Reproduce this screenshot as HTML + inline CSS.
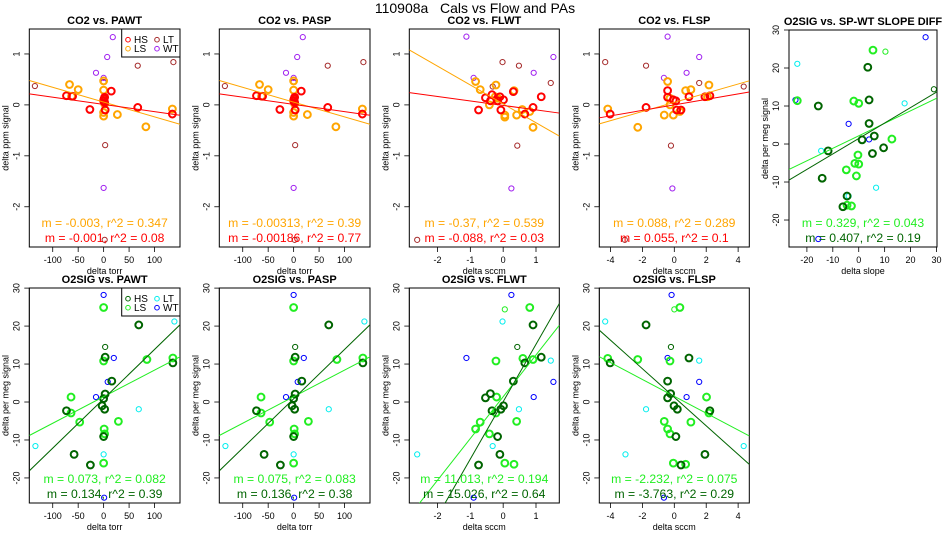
<!DOCTYPE html>
<html><head><meta charset="utf-8"><style>
html,body{margin:0;padding:0;background:#fff;}
svg{display:block;font-family:"Liberation Sans",Arial,sans-serif;}
</style></head><body>
<svg id="fig" width="950" height="550" viewBox="0 0 950 550" xmlns="http://www.w3.org/2000/svg">
<text x="475" y="13" text-anchor="middle" font-size="14" style="white-space:pre" xml:space="preserve">110908a   Cals vs Flow and PAs</text>
</svg>
<script>
// ---- Data arrays (x, y pairs) ----
// Panel 1: CO2 vs PAWT
const p1HS=[[-73,0.18],[-61,0.17],[-27,-0.09],[0,0.08],[1,0.12],[2,0.05],[3,-0.1],[15,0.27],[67,-0.05],[135,-0.18],[2,0.15]];
const p1LS=[[-67,0.4],[-63,0.17],[-50,0.3],[0,0.47],[0,0.29],[0,-0.15],[0,-0.22],[2,0.02],[27,-0.19],[83,-0.43],[135,-0.08],[0,0.1]];
const p1LT=[[-135,0.37],[0,0.45],[67,0.77],[137,0.84],[3,-0.79],[2,-2.65]];
const p1WT=[[18,1.33],[7,0.94],[-15,0.63],[0,0.53],[0,-1.63]];
// Panel 2: CO2 vs PASP
const p2HS=[[-73,0.18],[-61,0.17],[-27,-0.09],[0,0.08],[1,0.12],[2,0.05],[3,-0.1],[15,0.27],[67,-0.05],[135,-0.18],[2,0.15]];
const p2LS=[[-67,0.4],[-63,0.17],[-50,0.3],[0,0.47],[0,0.29],[0,-0.15],[0,-0.22],[2,0.02],[27,-0.19],[83,-0.43],[135,-0.08],[0,0.1]];
const p2LT=[[-135,0.37],[0,0.45],[67,0.77],[137,0.84],[3,-0.79],[2,-2.65]];
const p2WT=[[18,1.33],[7,0.94],[-15,0.63],[0,0.53],[0,-1.63]];
// Panel 3: CO2 vs FLWT
const p3HS=[[-0.75,-0.1],[-0.54,0.14],[-0.39,0.08],[-0.34,0.2],[-0.17,0.08],[-0.1,0.16],[-0.07,-0.1],[0.01,0.1],[0.31,0.26],[0.66,-0.18],[0.91,-0.05],[1.16,0.16]];
const p3LS=[[-0.84,0.46],[-0.7,0.3],[-0.42,0.0],[-0.22,0.39],[-0.24,0.16],[-0.17,0.13],[0.05,-0.2],[0.05,-0.24],[0.33,0.28],[0.41,-0.2],[0.58,-0.09],[0.81,-0.13],[0.91,-0.44]];
const p3LT=[[-2.62,-2.65],[-0.32,0.36],[-0.02,0.84],[0.48,0.77],[0.43,-0.8],[1.45,0.43]];
const p3WT=[[-1.12,1.34],[-0.9,0.53],[0.93,0.63],[1.53,0.94],[0.25,-1.64]];
// Panel 4: CO2 vs FLSP
const p4HS=[[-4.02,-0.18],[-1.77,-0.05],[-0.42,0.28],[-0.42,0.15],[-0.06,0.1],[0.1,0.08],[0.15,-0.1],[0.42,-0.1],[0.92,0.16],[1.92,0.16],[2.23,0.18]];
const p4LS=[[-4.17,-0.08],[-2.29,-0.44],[-0.63,-0.2],[-0.42,0.46],[-0.27,0.13],[-0.27,0],[-0.06,-0.2],[0.35,-0.13],[0.71,0.28],[1.04,0.3],[2.08,0.16],[2.17,0.39]];
const p4LT=[[-4.33,0.84],[-1.77,0.77],[1.56,0.43],[4.35,0.36],[-0.21,-0.8],[-3.1,-2.65]];
const p4WT=[[-0.42,1.34],[-0.65,0.53],[0.77,0.63],[1.56,0.94],[-0.12,-1.64]];
// Panel 5: O2SIG vs SP-WT slope diff
const p5HS=[[3.5,20.2],[4,11.6],[4,5.4],[6,2.1],[1.3,1.1],[9.6,-1],[5.3,-2.5],[-11.8,-1.8],[-15.6,10],[-14.1,-9],[-4.5,-13.7],[-6.1,-16.5]];
const p5LS=[[5.5,24.7],[-23.7,11.4],[-1.9,11.3],[0,10.7],[12.8,1.3],[-0.3,-2.9],[-1.5,-5.1],[0,-5.3],[-4.8,-6.8],[-0.9,-8.4],[-4.5,-16.1],[-2.8,-16.3]];
const p5LT=[[-23.7,21.1],[17.7,10.7],[-14.5,-1.8],[6.7,-11.5],[-3.9,-13.7]];
const p5WT=[[25.8,28.1],[-24.4,11.6],[-3.9,5.3],[4,1.2],[-15.6,-25]];
const p5HSthin=[[29,14.4]];
const p5LSthin=[[10.3,24.3]];
// Panel 6: O2SIG vs PAWT
const p6HS=[[-73,-2.3],[-58,-13.8],[-26,-16.6],[-3,-1],[0,0.9],[2,-1.9],[0,-9.1],[3,2.1],[3,11.8],[16,5.5],[69,20.3],[136,10.3]];
const p6LS=[[-64,1.3],[-64,-2.9],[-47,-5.3],[0,24.9],[0,10.8],[1,-7.1],[2,-8.4],[0,-16.1],[29,-5.1],[85,11.2],[136,11.6]];
const p6LT=[[-134,-11.6],[0,-13.8],[69,-1.9],[139,21.2]];
const p6WT=[[0,28.2],[20,11.6],[8,5.3],[-15,1.3],[1,-25.2]];
const p6HSthin=[[3,14.5]];
// Panel 7: O2SIG vs PASP
const p7HS=[[-73,-2.3],[-58,-13.8],[-26,-16.6],[-3,-1],[0,0.9],[2,-1.9],[0,-9.1],[3,2.1],[3,11.8],[16,5.5],[69,20.3],[136,10.3]];
const p7LS=[[-64,1.3],[-64,-2.9],[-47,-5.3],[0,24.9],[0,10.8],[1,-7.1],[2,-8.4],[0,-16.1],[29,-5.1],[85,11.2],[136,11.6]];
const p7LT=[[-134,-11.6],[0,-13.8],[69,-1.9],[139,21.2]];
const p7WT=[[0,28.2],[20,11.6],[8,5.3],[-15,1.3],[1,-25.2]];
const p7HSthin=[[3,14.5]];
// Panel 8: O2SIG vs FLWT
const p8HS=[[-0.75,-16.6],[-0.54,1.1],[-0.39,2.2],[-0.34,-2.3],[-0.17,-9.1],[-0.1,-13.8],[-0.07,-1.9],[0.01,-1],[0.31,5.5],[0.66,10.3],[0.91,20.3],[1.16,11.8]];
const p8LS=[[-0.84,-7.1],[-0.7,-5.3],[-0.42,-8.4],[-0.22,10.8],[-0.2,1.3],[-0.22,-2.9],[0.05,-16.1],[0.33,-16.4],[0.41,-5.1],[0.6,11.5],[0.81,24.9],[0.91,11.2]];
const p8LT=[[-2.62,-13.8],[-0.32,-11.6],[-0.02,21.2],[0.48,-1.9],[1.45,10.9]];
const p8WT=[[-1.12,11.6],[-0.9,-25.2],[0.25,28.2],[0.93,1.3],[1.53,5.3]];
const p8HSthin=[[0.43,14.5]];
const p8LSthin=[[0.05,24.4]];
// Panel 9: O2SIG vs FLSP
const p9HS=[[-4.02,10.3],[-1.77,20.3],[-0.42,5.5],[-0.42,1.1],[-0.23,2.2],[-0.02,-1],[0.19,-1.9],[0.1,-9.1],[0.42,-16.6],[0.92,11.6],[1.92,-13.8],[2.23,-2.3]];
const p9LS=[[-4.17,11.5],[-2.29,11.2],[-0.63,-5.1],[-0.42,-7.1],[-0.27,10.8],[-0.27,-8.4],[-0.06,-16.1],[0.35,24.9],[0.71,-16.4],[1.04,-5.3],[2.02,1.3],[2.17,-2.9]];
const p9LT=[[-4.33,21.2],[-1.77,-1.9],[1.56,10.9],[4.35,-11.6],[-3.06,-13.8]];
const p9WT=[[-0.42,11.6],[-0.17,28.2],[0.77,1.3],[1.56,5.3],[-0.65,-25.2]];
const p9HSthin=[[-0.21,14.5]];
const p9LSthin=[[0,24.4]];
// Fit lines [slope, intercept] for LS and HS
const fitLS=[[-0.0029,0.055],[-0.0029,0.055],[-0.37,0.02],[0.09,0.05],[0.329,2.15],[0.07,1.4],[0.07,1.4],[11.0,1.4],[-2.22,1.5]];
const fitHS=[[-0.00142,0.01],[-0.00142,0.01],[-0.088,-0.01],[0.054,0.0],[0.407,1.45],[0.13,0.85],[0.13,0.85],[15.1,0.1],[-3.76,1.25]];
const annLS=["m = -0.003, r^2 = 0.347","m = -0.00313, r^2 = 0.39","m = -0.37, r^2 = 0.539","m = 0.088, r^2 = 0.289","m = 0.329, r^2 = 0.043","m = 0.073, r^2 = 0.082","m = 0.075, r^2 = 0.083","m = 11.013, r^2 = 0.194","m = -2.232, r^2 = 0.075"];
const annHS=["m = -0.001, r^2 = 0.08","m = -0.00186, r^2 = 0.77","m = -0.088, r^2 = 0.03","m = 0.055, r^2 = 0.1","m = 0.407, r^2 = 0.19","m = 0.134, r^2 = 0.39","m = 0.136, r^2 = 0.38","m = 15.026, r^2 = 0.64","m = -3.763, r^2 = 0.29"];
const titles=["CO2 vs. PAWT","CO2 vs. PASP","CO2 vs. FLWT","CO2 vs. FLSP","O2SIG vs. SP-WT SLOPE DIFF","O2SIG vs. PAWT","O2SIG vs. PASP","O2SIG vs. FLWT","O2SIG vs. FLSP"];
const xTitles=["delta torr","delta torr","delta sccm","delta sccm","delta slope","delta torr","delta torr","delta sccm","delta sccm"];
const ticksPA=[-100,-50,0,50,100];
const ticksFLWT=[-2,-1,0,1];
const ticksFLSP=[-4,-2,0,2,4];
const ticksSlope=[-20,-10,0,10,20,30];
const ticksCO2=[-2,-1,0,1];
const ticksO2=[-20,-10,0,10,20,30];

const NS="http://www.w3.org/2000/svg";
const svg=document.getElementById('fig');
function mk(tag,attrs,parent){const e=document.createElementNS(NS,tag);for(const k in attrs)e.setAttribute(k,attrs[k]);(parent||svg).appendChild(e);return e;}

const panels=[
 {l:29.3,t:29,w:150.7,h:218,xd:[-146,150],yd:[-2.79,1.49],xt:ticksPA,yt:ticksCO2,d:[p1HS,p1LS,p1LT,p1WT],co2:true,leg:true},
 {l:219.3,t:29,w:150.7,h:218,xd:[-146,150],yd:[-2.79,1.49],xt:ticksPA,yt:ticksCO2,d:[p2HS,p2LS,p2LT,p2WT],co2:true},
 {l:409.3,t:29,w:150,h:218,xd:[-2.86,1.71],yd:[-2.79,1.49],xt:ticksFLWT,yt:ticksCO2,d:[p3HS,p3LS,p3LT,p3WT],co2:true},
 {l:599.3,t:29,w:150,h:218,xd:[-4.7,4.7],yd:[-2.79,1.49],xt:ticksFLSP,yt:ticksCO2,d:[p4HS,p4LS,p4LT,p4WT],co2:true},
 {l:789,t:30,w:148,h:217,xd:[-26.9,30.2],yd:[-27.1,30],xt:ticksSlope,yt:ticksO2,d:[p5HS,p5LS,p5LT,p5WT],hsT:p5HSthin,lsT:p5LSthin},
 {l:29.3,t:288,w:150.7,h:215,xd:[-146,150],yd:[-26.6,30.03],xt:ticksPA,yt:ticksO2,d:[p6HS,p6LS,p6LT,p6WT],hsT:p6HSthin,leg:true},
 {l:219.3,t:288,w:150.7,h:215,xd:[-146,150],yd:[-26.6,30.03],xt:ticksPA,yt:ticksO2,d:[p7HS,p7LS,p7LT,p7WT],hsT:p7HSthin},
 {l:409.3,t:288,w:150,h:215,xd:[-2.86,1.71],yd:[-26.6,30.03],xt:ticksFLWT,yt:ticksO2,d:[p8HS,p8LS,p8LT,p8WT],hsT:p8HSthin,lsT:p8LSthin},
 {l:599.3,t:288,w:150,h:215,xd:[-4.7,4.7],yd:[-26.6,30.03],xt:ticksFLSP,yt:ticksO2,d:[p9HS,p9LS,p9LT,p9WT],hsT:p9HSthin,lsT:p9LSthin}
];
const CO2C=["#ff0000","#ffa500","#a52a2a","#a020f0"];
const O2C=["#006400","#22ee22","#00eeee","#0000ff"];
const names=["HS","LS","LT","WT"];

panels.forEach((p,i)=>{
 const g=mk('g',{});
 
 
 const sx=v=>p.l+(v-p.xd[0])/(p.xd[1]-p.xd[0])*p.w;
 const sy=v=>p.t+p.h-(v-p.yd[0])/(p.yd[1]-p.yd[0])*p.h;
 const cols=p.co2?CO2C:O2C;
 const cp=mk('clipPath',{id:'c'+i},g);
 mk('rect',{x:p.l,y:p.t,width:p.w,height:p.h},cp);
 const tt=mk('text',{x:p.l+p.w/2,y:p.t-5,'text-anchor':'middle','font-size':11,'font-weight':'bold'},g);
 tt.textContent=titles[i];
 
 
 const bot=p.t+p.h;
 p.xt.forEach(v=>{
  mk('line',{x1:sx(v),x2:sx(v),y1:bot,y2:bot+5,stroke:'#000','stroke-width':0.8},g);
  const t=mk('text',{x:sx(v),y:bot+16,'text-anchor':'middle','font-size':9},g);
  t.textContent=v;
  
  
 });
 mk('line',{x1:sx(p.xt[0]),x2:sx(p.xt[p.xt.length-1]),y1:bot,y2:bot,stroke:'#000','stroke-width':0.8},g);
 const xl=mk('text',{x:p.l+p.w/2,y:bot+27,'text-anchor':'middle','font-size':9},g);
 xl.textContent=xTitles[i];
 
 
 p.yt.forEach(v=>{
  mk('line',{x1:p.l-5,x2:p.l,y1:sy(v),y2:sy(v),stroke:'#000','stroke-width':0.8},g);
  const tx=p.l-10,ty=sy(v);
  const t=mk('text',{x:tx,y:ty,'text-anchor':'middle','font-size':9,transform:`rotate(-90 ${tx} ${ty})`},g);
  t.textContent=v;
  
  
 });
 mk('line',{x1:p.l,x2:p.l,y1:sy(p.yt[0]),y2:sy(p.yt[p.yt.length-1]),stroke:'#000','stroke-width':0.8},g);
 const ytx=p.l-21,yty=p.t+p.h/2;
 const yl=mk('text',{x:ytx,y:yty,'text-anchor':'middle','font-size':9,transform:`rotate(-90 ${ytx} ${yty})`},g);
 yl.textContent=p.co2?"delta ppm signal":"delta per meg signal";
 
 
 const box=mk('rect',{x:p.l,y:p.t,width:p.w,height:p.h,fill:'none',stroke:'#000','stroke-width':1},g);
 
 
 const pg=mk('g',{'clip-path':`url(#c${i})`},g);
 [2,3].forEach(k=>{
  p.d[k].forEach(pt=>{
   const c=mk('circle',{cx:sx(pt[0]),cy:sy(pt[1]),r:2.6,fill:'none',stroke:cols[k],'stroke-width':1},pg);
   
   
  });
 });
 [[p.hsT,0],[p.lsT,1]].forEach(([arr,k])=>{
  if(!arr)return;
  arr.forEach(pt=>{
   const c=mk('circle',{cx:sx(pt[0]),cy:sy(pt[1]),r:2.6,fill:'none',stroke:cols[k],'stroke-width':1},pg);
   
   
  });
 });
 [1,0].forEach(k=>{
  p.d[k].forEach(pt=>{
   const c=mk('circle',{cx:sx(pt[0]),cy:sy(pt[1]),r:3.4,fill:'none',stroke:cols[k],'stroke-width':2},pg);
   
   
  });
 });
 [[fitLS[i],cols[1]],[fitHS[i],cols[0]]].forEach(([f,col])=>{
  const x0=p.xd[0],x1=p.xd[1];
  const ln=mk('line',{x1:sx(x0),y1:sy(f[1]+f[0]*x0),x2:sx(x1),y2:sy(f[1]+f[0]*x1),stroke:col,'stroke-width':1},pg);
  
  
 });
 const a1=mk('text',{x:p.l+p.w/2,y:bot-20,'text-anchor':'middle','font-size':12.2,fill:cols[1]},g);
 a1.textContent=annLS[i];
 
 
 const a2=mk('text',{x:p.l+p.w/2,y:bot-5,'text-anchor':'middle','font-size':12.2,fill:cols[0]},g);
 a2.textContent=annHS[i];
 
 
 if(p.leg){
  const lg=mk('g',{},g);
  
  
  mk('rect',{x:121.7,y:p.t,width:p.l+p.w-121.7,height:28,fill:'#fff',stroke:'#000','stroke-width':1},lg);
  const pos=[[128,p.t+10.7],[128,p.t+19.7],[157,p.t+10.7],[157,p.t+19.7]];
  names.forEach((n,k)=>{
   const e=mk('g',{},lg);
   
   
   mk('circle',{cx:pos[k][0],cy:pos[k][1],r:2.3,fill:'none',stroke:cols[k],'stroke-width':1},e);
   const t=mk('text',{x:pos[k][0]+6,y:pos[k][1]+3.5,'font-size':10},e);
   t.textContent=n;
  });
 }
});
</script>
</body></html>
